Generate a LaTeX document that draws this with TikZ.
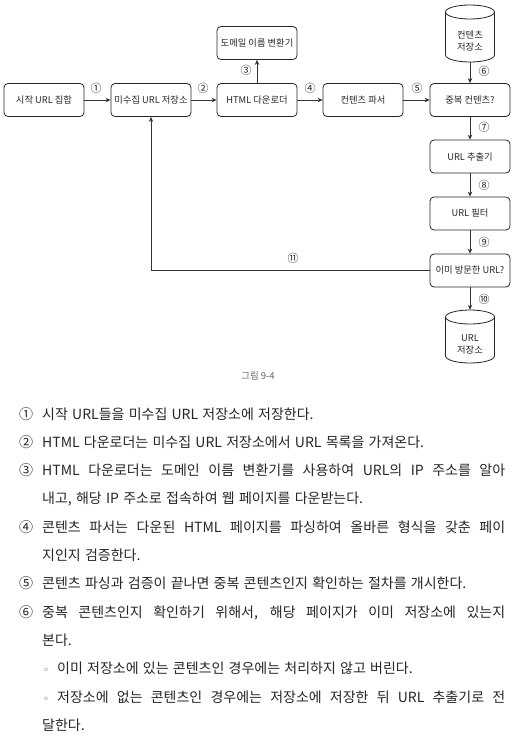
\documentclass[tikz,border=0pt]{standalone}
\usepackage{fontspec}
\usetikzlibrary{arrows.meta}
\setmainfont{Noto Sans CJK KR}
\newfontfamily\bodyfont{Noto Sans CJK KR}[WordSpace={1.35,1.3,1.5}]
\newfontfamily\symfont{DejaVu Sans}
\tikzset{
  box/.style={draw=black!85, line width=0.8pt, rounded corners=4pt,
    minimum width=80pt, minimum height=33pt, inner sep=0pt,
    font=\fontsize{9.3}{11}\selectfont, text=black!85},
  conn/.style={draw=black!80, line width=0.8pt, -{Stealth[length=5pt,width=4.5pt]}},
  num/.style={font=\fontsize{11}{11}\selectfont, inner sep=0pt, text=black!85},
  cylline/.style={draw=black!85, line width=0.8pt},
  cyltext/.style={font=\fontsize{9.3}{12}\selectfont, align=center, inner sep=0pt, text=black!85},
  bodyline/.style={anchor=base west, inner sep=0pt, font=\bodyfont\fontsize{14}{14}\selectfont, text=black!85},
}
\begin{document}
\begin{tikzpicture}[x=1pt,y=1pt]
\path[use as bounding box, fill=white] (0,0) rectangle (516,-739);

% boxes
\node[box] (start) at (44,-100) {시작 URL 집합};
\node[box] (front) at (151,-100) {미수집 URL 저장소};
\node[box] (html) at (257,-100) {HTML 다운로더};
\node[box] (dns) at (257,-43) {도메일 이름 변환기};
\node[box] (parser) at (363,-100) {컨텐츠 파서};
\node[box] (dup) at (470,-100) {중복 컨텐츠?};
\node[box] (ext) at (470,-156.5) {URL 추출기};
\node[box] (filt) at (470,-213.5) {URL 필터};
\node[box] (seen) at (470,-270.5) {이미 방문한 URL?};

% content store cylinder (top 5, bottom 62)
\node[inner sep=0pt, minimum width=49pt, minimum height=57pt] (cstore) at (470,-33.5) {};
\draw[cylline] (445.5,-12) -- (445.5,-55) arc[start angle=180, end angle=360, x radius=24.5, y radius=7] -- (494.5,-12);
\draw[cylline] (470,-12) ellipse[x radius=24.5, y radius=7];
\node[cyltext] (cstoretxt) at (470,-41) {컨텐츠\\저장소};

% URL store cylinder (top 310, bottom 363)
\node[inner sep=0pt, minimum width=49pt, minimum height=53pt] (ustore) at (470,-336.5) {};
\draw[cylline] (445.5,-317) -- (445.5,-356) arc[start angle=180, end angle=360, x radius=24.5, y radius=7] -- (494.5,-317);
\draw[cylline] (470,-317) ellipse[x radius=24.5, y radius=7];
\node[cyltext] (ustoretxt) at (470,-344) {URL\\저장소};

% connectors
\draw[conn] (start) -- (front);
\draw[conn] (front) -- (html);
\draw[conn] (html.north) -- (dns.south);
\draw[conn] (html) -- (parser);
\draw[conn] (parser) -- (dup);
\draw[conn] (cstore.south) -- (dup.north);
\draw[conn] (dup) -- (ext);
\draw[conn] (ext) -- (filt);
\draw[conn] (filt) -- (seen);
\draw[conn] (seen) -- (ustore);
\draw[conn] (seen.west) -| (front.south);

% step labels
\node[num] (n1) at (96,-88) {①};
\node[num] (n2) at (203,-88) {②};
\node[num] (n3) at (246,-70) {③};
\node[num] (n4) at (310,-88) {④};
\node[num] (n5) at (417,-88) {⑤};
\node[num] (n6) at (484,-71) {⑥};
\node[num] (n7) at (484,-127) {⑦};
\node[num] (n8) at (484,-185) {⑧};
\node[num] (n9) at (484,-242) {⑨};
\node[num] (n10) at (484,-299) {⑩};
\node[num] (n11) at (293,-258) {⑪};

% caption
\node[font=\fontsize{9.5}{9.5}\selectfont, text=black!60, inner sep=0pt] (cap) at (258,-376) {그림 9-4};

% body text
\node[bodyline] (b1n) at (19,-419) {①};
\node[bodyline] (b1) at (42,-419) {시작 URL들을 미수집 URL 저장소에 저장한다.};
\node[bodyline] (b2n) at (19,-447.3) {②};
\node[bodyline] (b2) at (42,-447.3) {HTML 다운로더는 미수집 URL 저장소에서 URL 목록을 가져온다.};
\node[bodyline] (b3n) at (19,-475.6) {③};
\node[bodyline] (b3) at (42,-475.6) {\makebox[463pt][s]{HTML 다운로더는 도메인 이름 변환기를 사용하여 URL의 IP 주소를 알아}};
\node[bodyline] (b3b) at (42,-503.9) {내고, 해당 IP 주소로 접속하여 웹 페이지를 다운받는다.};
\node[bodyline] (b4n) at (19,-532.2) {④};
\node[bodyline] (b4) at (42,-532.2) {\makebox[463pt][s]{콘텐츠 파서는 다운된 HTML 페이지를 파싱하여 올바른 형식을 갖춘 페이}};
\node[bodyline] (b4b) at (42,-560.5) {지인지 검증한다.};
\node[bodyline] (b5n) at (19,-588.8) {⑤};
\node[bodyline] (b5) at (42,-588.8) {콘텐츠 파싱과 검증이 끝나면 중복 콘텐츠인지 확인하는 절차를 개시한다.};
\node[bodyline] (b6n) at (19,-617.1) {⑥};
\node[bodyline] (b6) at (42,-617.1) {\makebox[463pt][s]{중복 콘텐츠인지 확인하기 위해서, 해당 페이지가 이미 저장소에 있는지}};
\node[bodyline] (b6b) at (42,-645.4) {본다.};
\node[bodyline, font=\symfont\fontsize{10}{10}\selectfont] (c1b) at (43,-673.7) {◦};
\node[bodyline] (c1) at (57,-673.7) {이미 저장소에 있는 콘텐츠인 경우에는 처리하지 않고 버린다.};
\node[bodyline, font=\symfont\fontsize{10}{10}\selectfont] (c2b) at (43,-702) {◦};
\node[bodyline] (c2) at (57,-702) {\makebox[448pt][s]{저장소에 없는 콘텐츠인 경우에는 저장소에 저장한 뒤 URL 추출기로 전}};
\node[bodyline] (c2c) at (42,-730.3) {달한다.};
\end{tikzpicture}
\end{document}
